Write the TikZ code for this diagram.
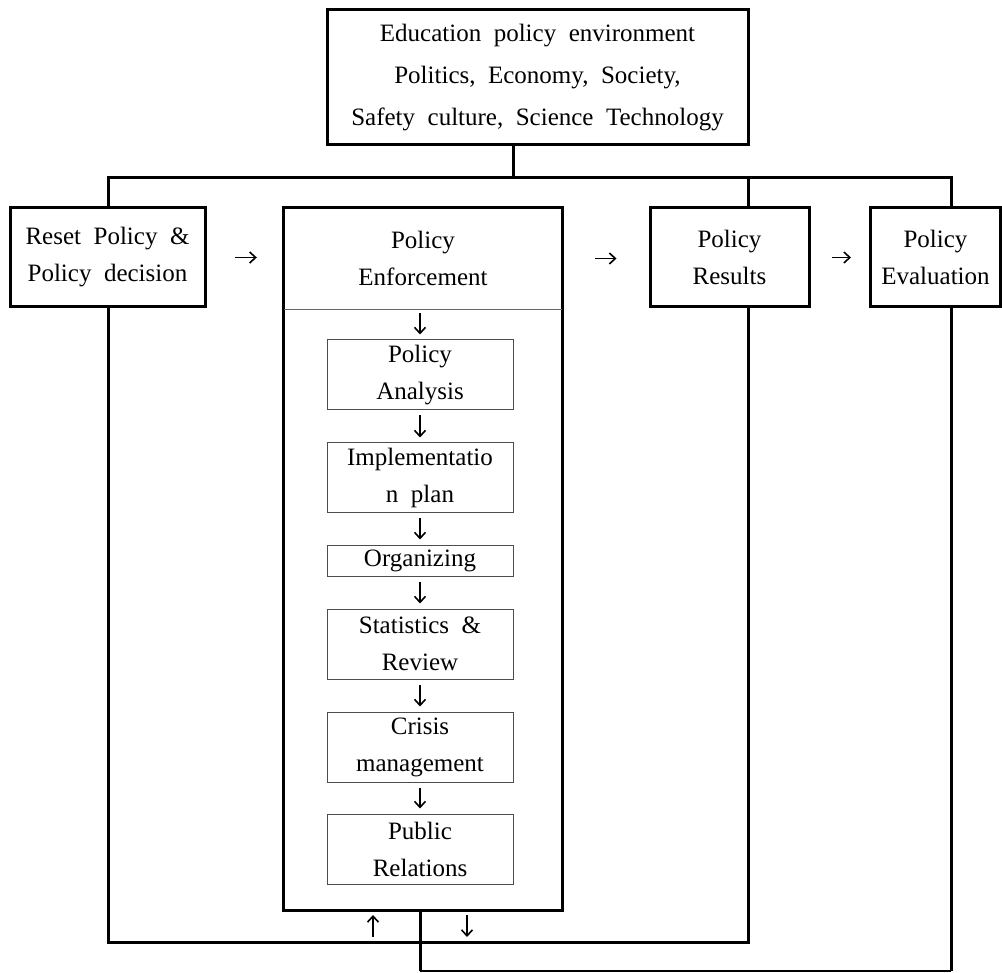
\documentclass[tikz,border=0pt]{standalone}
\usepackage{fontspec}
\setmainfont{Liberation Serif}
\usetikzlibrary{arrows,arrows.meta,positioning}
\newcommand{\boxfont}[1]{\fontsize{25}{#1}\selectfont\spaceskip=.5em plus .1em\relax}

\begin{document}
\begin{tikzpicture}[x=1pt,y=-1pt]
\tikzstyle{every node}=[font=\boxfont{37}, align=center, inner sep=2pt]
\tikzstyle{bigbox}=[draw, line width=3pt, minimum height=99pt]
\tikzstyle{stepbox}=[draw=black!70, line width=1pt, minimum width=186pt, minimum height=70pt]
\tikzstyle{wire}=[line width=3pt]
\tikzstyle{arr}=[-{Straight Barb[length=6pt,width=11pt,line width=1.6pt]}, line width=1.6pt]
\useasboundingbox (0,0) rectangle (1002,973);
\node[bigbox, minimum width=421pt, minimum height=135pt, font=\boxfont{42}] (env) at (537.5,77.5) {Education policy environment\\Politics, Economy, Society,\\Safety culture, Science Technology};
\node[bigbox, minimum width=195pt] (reset) at (107.5,257.5) {Reset Policy \&\\Policy decision};
\node[minimum width=278pt, minimum height=101pt] (enf) at (423,258.5) {Policy\\Enforcement};
\node[bigbox, minimum width=159pt] (res) at (729.5,257.5) {Policy\\Results};
\node[bigbox, minimum width=130pt] (eval) at (935.5,257.5) {Policy\\Evaluation};
\node[stepbox] (ana) at (420,375) {Policy\\Analysis};
\node[stepbox, below=32pt of ana] (impl) {Implementatio\\n plan};
\node[stepbox, minimum height=31pt, below=31pt of impl] (org) {Organizing};
\node[stepbox, below=32pt of org] (stat) {Statistics \&\\Review};
\node[stepbox, below=32pt of stat] (cris) {Crisis\\management};
\node[stepbox, below=31pt of cris] (pub) {Public\\Relations};
\coordinate (enfbot) at (423,910);
\draw[wire] (enf.north west) rectangle (enf.east |- enfbot);
\draw[black!60, line width=1pt] (enf.south west) -- (enf.south east);
\draw[arr, shorten <=4pt, shorten >=5pt] (enf.south -| ana.north) -- (ana.north);
\foreach \a/\b in {ana/impl, impl/org, org/stat, stat/cris, cris/pub}
  \draw[arr, shorten <=5pt, shorten >=5pt] (\a.south) -- (\b.north);
\draw[arr, shorten <=28pt, shorten >=27pt] (reset.east) -- (reset.east -| enf.west);
\draw[arr, shorten <=33pt, shorten >=32pt] (enf.east) -- (enf.east -| res.west);
\draw[arr, shorten <=21pt, shorten >=18pt] (res.east) -- (eval.west);
\coordinate (stem) at (513,178);
\coordinate (busL) at (108,178);
\coordinate (busM) at (748,178);
\coordinate (busR) at (951,178);
\draw[wire] (env.south -| stem) -- (stem);
\draw[wire] (reset.north -| busL) -- (busL) -- (busR) -- (eval.north -| busR);
\draw[wire] (busM) -- (res.north -| busM);
\coordinate (fbL) at (108,942);
\coordinate (fbR) at (748,942);
\draw[wire] (reset.south -| fbL) -- (fbL) -- (fbR) -- (res.south -| fbR);
\coordinate (lowL) at (420,971);
\coordinate (lowR) at (951,971);
\draw[wire] (enfbot -| lowL) -- (lowL);
\draw[line width=1.3pt] (lowL) -- (lowR);
\draw[wire] (lowR) -- (eval.south -| lowR);
\coordinate (upA) at (373,942);
\coordinate (dnA) at (467,942);
\draw[arr, shorten <=5pt, shorten >=5pt] (upA) -- (upA |- enfbot);
\draw[arr, shorten <=5pt, shorten >=5pt] (dnA |- enfbot) -- (dnA);
\end{tikzpicture}
\end{document}
